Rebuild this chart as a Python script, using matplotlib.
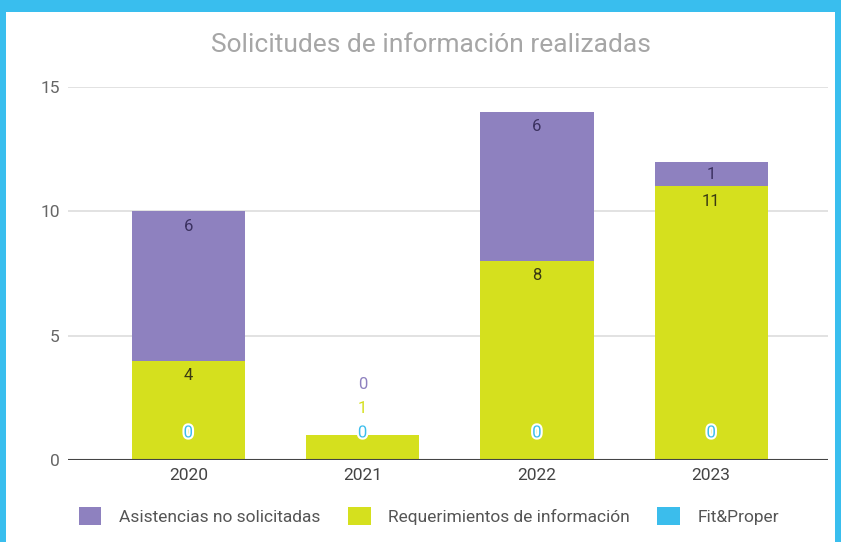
import matplotlib
matplotlib.use("Agg")
import matplotlib.pyplot as plt
import matplotlib.patheffects as pe
from matplotlib.patches import Patch, Rectangle
import numpy as np

plt.rcParams['font.family'] = ['Roboto', 'DejaVu Sans']

# Data
years = ['2020', '2021', '2022', '2023']
fit_proper = [0, 0, 0, 0]
requerimientos = [4, 1, 8, 11]
asistencias = [6, 0, 6, 1]

series = [
    ('Fit&Proper', fit_proper, '#3BBDEC', '#3BBDEC'),
    ('Requerimientos de información', requerimientos, '#D5E01E', '#3a3a12'),
    ('Asistencias no solicitadas', asistencias, '#8E81BF', '#3b3160'),
]
legend_order = [2, 1, 0]

fig = plt.figure(figsize=(8.41, 5.42), dpi=100)
fig.patch.set_facecolor('#39BEEE')
# white panel inside the cyan frame
fig.patches.append(Rectangle((6 / 841, 0), 829 / 841, 1 - 12 / 542,
                             transform=fig.transFigure, facecolor='white',
                             edgecolor='none', zorder=-10))

ax = fig.add_axes([68 / 841, 1 - 460 / 542, 760 / 841, 373 / 542])
ax.set_zorder(1)
ax.patch.set_alpha(0)
x = np.arange(len(years))
width = 0.65

bottom = np.zeros(len(years))
tops = []
for name, vals, color, _ in series:
    ax.bar(x, vals, width, bottom=bottom, color=color, zorder=2)
    tops.append((bottom.copy(), bottom + np.array(vals)))
    bottom = bottom + np.array(vals)

# Data labels: inside the segment end if there is room, otherwise stacked above
for i in range(len(years)):
    last = None
    for k, (name, vals, color, dark) in enumerate(series):
        lo, hi = tops[k][0][i], tops[k][1][i]
        if k == 0:
            y = hi + 1.09
            ax.text(x[i], y, f'{vals[i]}', ha='center', va='center', fontsize=12,
                    color=color, zorder=4,
                    path_effects=[pe.withStroke(linewidth=3, foreground='white')])
            last = y
            continue
        seg = hi - lo
        y = hi - min(0.6, seg / 2)
        inside = True
        if y < last + 0.97:
            y = last + 0.97
            inside = False
        ax.text(x[i], y, f'{vals[i]}', ha='center', va='center', fontsize=12,
                color=dark if inside else color, zorder=4)
        last = y

ax.set_xlim(-0.69, 3.67)
ax.set_ylim(0, 15)
ax.set_yticks([0, 5, 10, 15])
ax.grid(axis='y', color='#dddddd', linewidth=1.2, zorder=0)
ax.axhline(0, color='#444444', linewidth=1.5, zorder=3)
for s in ax.spines.values():
    s.set_visible(False)
ax.tick_params(axis='y', length=0, pad=6, labelsize=12.5, labelcolor='#666666')
ax.tick_params(axis='x', length=0, pad=6, labelsize=12.5, labelcolor='#444444')
ax.set_xticks(x)
ax.set_xticklabels(years)

fig.text(431 / 841, 1 - 45 / 542, 'Solicitudes de información realizadas',
         ha='center', va='center', fontsize=19, color='#a6a6a6')

handles = [Patch(facecolor=series[k][2], edgecolor='none', label=series[k][0])
           for k in legend_order]
fig.legend(handles=handles, loc='center', bbox_to_anchor=(0.51, 0.048), ncol=3,
           frameon=False, fontsize=12.5, labelcolor='#555555', handlelength=1.3,
           handleheight=1.3, columnspacing=1.6, handletextpad=1.0)

fig.savefig('out.png', dpi=100)
